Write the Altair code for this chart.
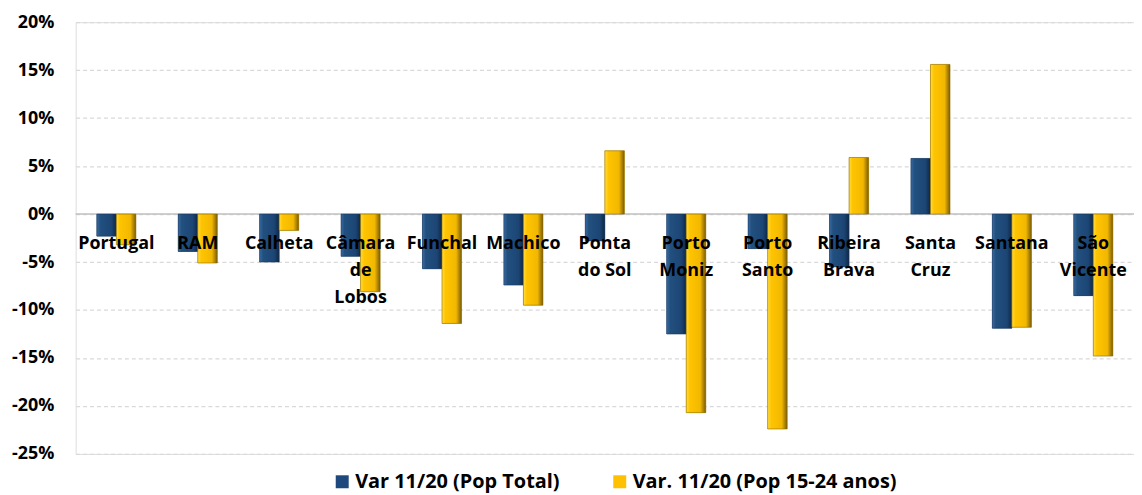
import altair as alt
import pandas as pd

categories = ["Portugal", "RAM", "Calheta", "Câmara de Lobos", "Funchal", "Machico",
              "Ponta do Sol", "Porto Moniz", "Porto Santo", "Ribeira Brava",
              "Santa Cruz", "Santana", "São Vicente"]
label_text = ["Portugal", "RAM", "Calheta", "Câmara\nde\nLobos", "Funchal", "Machico",
              "Ponta\ndo Sol", "Porto\nMoniz", "Porto\nSanto", "Ribeira\nBrava",
              "Santa\nCruz", "Santana", "São\nVicente"]
series = ["Var 11/20 (Pop Total)", "Var. 11/20 (Pop 15-24 anos)"]
pop_total = [-2.3, -3.9, -5.0, -4.4, -5.7, -7.4, -2.8, -12.5, -3.6, -5.5, 5.8, -11.9, -8.5]
pop_15_24 = [-3.2, -5.1, -1.7, -8.1, -11.4, -9.5, 6.6, -20.7, -22.4, 5.9, 15.6, -11.8, -14.8]
y_ticks = [-0.25, -0.20, -0.15, -0.10, -0.05, 0.0, 0.05, 0.10, 0.15, 0.20]

rows = []
for c, a, b in zip(categories, pop_total, pop_15_24):
    rows.append({"cat": c, "serie": series[0], "v": a / 100})
    rows.append({"cat": c, "serie": series[1], "v": b / 100})
df = pd.DataFrame(rows)
lab = pd.DataFrame({"cat": categories, "lab": label_text, "zero": [0.0] * len(categories)})

FONT = "Open Sans"
xscale = alt.Scale(domain=categories, paddingInner=0.52, paddingOuter=0.26)
yscale = alt.Scale(domain=[-0.25, 0.20], nice=False, zero=False)
xoff_scale = alt.Scale(domain=series)

x_enc = alt.X("cat:N", scale=xscale, sort=categories, axis=None)
xo_enc = alt.XOffset("serie:N", scale=xoff_scale)

base = alt.Chart(df).mark_bar().encode(
    x=x_enc,
    xOffset=xo_enc,
    y=alt.Y("v:Q", scale=yscale,
            axis=alt.Axis(values=y_ticks, title=None, domain=False, ticks=False,
                          labelExpr="round(datum.value*100) + '%'",
                          labelFont=FONT, labelFontSize=18, labelFontWeight="bold",
                          labelColor="#000000", labelPadding=22,
                          grid=True, gridColor="#d9d9d9", gridDash=[4, 3], gridWidth=1.3)),
    color=alt.Color("serie:N", sort=series,
                    scale=alt.Scale(domain=series, range=["#1f497d", "#ffc000"]),
                    legend=alt.Legend(title=None, orient="none", direction="horizontal",
                                      legendX=258, legendY=452,
                                      symbolType="square", symbolSize=170,
                                      symbolStrokeWidth=0, labelFont=FONT,
                                      labelFontSize=20, labelFontWeight="bold",
                                      labelColor="#000000", columnPadding=50,
                                      labelOffset=3, labelLimit=400)),
)


def grad(stops):
    return alt.Gradient(gradient="linear", x1=0, y1=0, x2=1, y2=0,
                        stops=[alt.GradientStop(offset=o, color=c) for o, c in stops])


blue_grad = grad([(0, "#3a6aa0"), (0.18, "#21507f"), (0.75, "#1c4574"), (1, "#0f2745")])
gold_grad = grad([(0, "#ffdc40"), (0.18, "#ffc400"), (0.72, "#f2b800"), (1, "#7a5c00")])

blue_layer = alt.Chart(df).transform_filter(alt.datum.serie == series[0]).mark_bar(
    color=blue_grad, stroke="#17375e", strokeWidth=0.6
).encode(x=x_enc, xOffset=xo_enc, y=alt.Y("v:Q", scale=yscale))

gold_layer = alt.Chart(df).transform_filter(alt.datum.serie == series[1]).mark_bar(
    color=gold_grad, stroke="#8a6a00", strokeWidth=0.6
).encode(x=x_enc, xOffset=xo_enc, y=alt.Y("v:Q", scale=yscale))

zero = alt.Chart(pd.DataFrame({"z": [0.0]})).mark_rule(color="#bfbfbf", strokeWidth=1.5).encode(
    y=alt.Y("z:Q", scale=yscale)
)

labels = alt.Chart(lab).mark_text(
    font=FONT, fontSize=18, fontWeight="bold", color="#000000",
    baseline="middle", align="center", lineBreak="\n", lineHeight=27, dy=30
).encode(
    x=alt.X("cat:N", scale=xscale, sort=categories),
    y=alt.Y("zero:Q", scale=yscale),
    text="lab:N",
)

chart = alt.layer(zero, base, blue_layer, gold_layer, labels).properties(
    width=1064, height=434,
    autosize=alt.AutoSizeParams(type="none"),
    padding={"left": 68, "top": 13, "right": 0, "bottom": 38},
).configure_view(stroke=None).configure(background="#ffffff")

chart.save("out.html", embed_options={"renderer": "svg", "actions": False})
